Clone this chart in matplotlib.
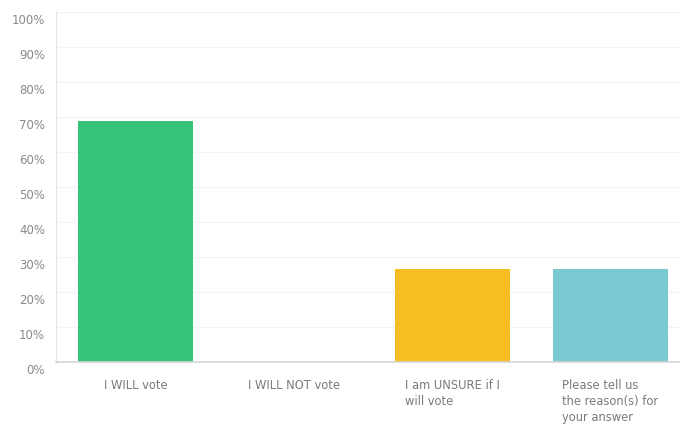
import matplotlib
matplotlib.use("Agg")
import matplotlib.pyplot as plt
import matplotlib.transforms as mtransforms

categories = ["I WILL vote", "I WILL NOT vote", "I am UNSURE if I\nwill vote",
              "Please tell us\nthe reason(s) for\nyour answer"]
values = [68.8, 0.0, 26.6, 26.6]
colors = ["#35C47A", "#35C47A", "#F6BE22", "#7BC9D1"]
yticks = list(range(0, 101, 10))
ytick_labels = [f"{t}%" for t in yticks]

fig = plt.figure(figsize=(6.8, 4.26), dpi=100)
ax = fig.add_axes([56 / 680, 1 - 362.3 / 426, 1 - 56 / 680, (362.3 - 12) / 426])

x = list(range(len(categories)))
ax.bar(x, values, width=0.727, color=colors, zorder=2)

ax.set_xlim(-0.504, 3.44)
ax.set_ylim(0, 100)
ax.set_yticks(yticks)
ax.set_yticklabels(ytick_labels)
ax.set_xticks(x)
ax.set_xticklabels(categories, ha="center", multialignment="left", linespacing=1.3)

ax.grid(axis="y", color="#f3f3f3", linewidth=0.9, zorder=0)
for s in ("top", "right"):
    ax.spines[s].set_visible(False)
ax.spines["left"].set_color("#e3e3e3")
ax.spines["bottom"].set_color("#d6d6d6")
ax.spines["bottom"].set_linewidth(1.2)

ax.tick_params(axis="y", length=0, pad=8, labelsize=8.5, labelcolor="#8a8a8a")
ax.tick_params(axis="x", length=0, pad=12, labelsize=8.3, labelcolor="#7a7a7a")

# tick labels sit a little below their gridlines
shift = mtransforms.ScaledTranslation(0, -5 / 72, fig.dpi_scale_trans)
for lbl in ax.get_yticklabels():
    lbl.set_transform(lbl.get_transform() + shift)

fig.savefig("out.png", dpi=100)
